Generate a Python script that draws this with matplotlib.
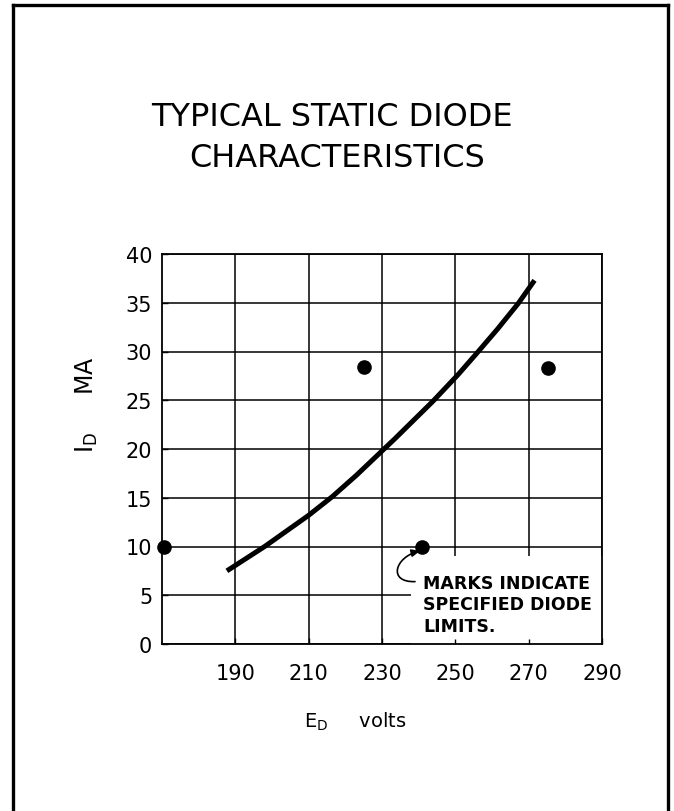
import matplotlib
matplotlib.use("Agg")
import matplotlib.pyplot as plt
from matplotlib.patches import Rectangle, FancyArrowPatch
from matplotlib.path import Path
from matplotlib.lines import Line2D

# ---- data ----
curve_ed = [187.7, 198.0, 210.0, 216.4, 223.0, 230.0, 233.5, 243.9, 250.8, 255.8, 261.5, 267.2, 271.6]
curve_id = [7.5, 10.0, 13.2, 15.1, 17.3, 19.8, 21.05, 24.9, 27.65, 29.8, 32.3, 34.95, 37.3]
limit_ed = [170.5, 225.1, 240.9, 275.3]
limit_id = [10.0, 28.4, 10.0, 28.3]
x_ticks = [190, 210, 230, 250, 270, 290]
y_ticks = [0, 5, 10, 15, 20, 25, 30, 35, 40]
title_lines = ["TYPICAL STATIC DIODE", "CHARACTERISTICS"]
note_text = "MARKS INDICATE\nSPECIFIED DIODE\nLIMITS."

W, H = 674, 812
fig = plt.figure(figsize=(W / 100, H / 100), dpi=100)
plt.rcParams['font.family'] = ['DejaVu Sans']

def fx(px):
    return px / W

def fy(py):
    return 1 - py / H

left, right, top, bottom = 162, 602, 255, 645
ax = fig.add_axes([fx(left), fy(bottom), (right - left) / W, (bottom - top) / H])
ax.set_xlim(170, 290)
ax.set_ylim(0, 40)
ax.set_xticks(x_ticks)
ax.set_yticks(y_ticks)
ax.set_axisbelow(True)
ax.grid(True, color='black', linewidth=1.1)
ax.tick_params(axis='both', direction='in', length=4, width=1.0,
               labelsize=15, colors='black')
ax.tick_params(axis='x', pad=14)
ax.tick_params(axis='y', pad=7)
for s in ax.spines.values():
    s.set_linewidth(1.3)
    s.set_color('black')
    s.set_zorder(5)

# white box behind the note (hides the grid there)
ax.add_patch(Rectangle((238.0, 0.0), 52.0, 9.0, facecolor='white',
                       edgecolor='none', zorder=1))
ax.vlines([250, 270], 0, 0.012, transform=ax.get_xaxis_transform(),
          colors='black', linewidth=1.0, zorder=2)

# curve
ax.plot(curve_ed, curve_id, color='black', linewidth=3.6,
        solid_capstyle='butt', solid_joinstyle='round', zorder=3)
# limit marks
ax.plot(limit_ed, limit_id, linestyle='none', marker='o', markersize=9.5,
        color='black', clip_on=False, zorder=6)

# note
ax.text(241.2, 7.2, note_text, ha='left', va='top', fontsize=12.5,
        fontweight='bold', linespacing=1.25, zorder=4)
arrow_path = Path([(239.0, 6.4), (231.5, 6.3), (233.5, 8.9), (240.4, 9.55)],
                  [Path.MOVETO, Path.CURVE4, Path.CURVE4, Path.CURVE4])
ax.add_patch(FancyArrowPatch(path=arrow_path, arrowstyle='-|>,head_length=5,head_width=2.2',
                             color='black', linewidth=1.2, zorder=4))

# axis labels
fig.text(fx(87), fy(405), r'$\mathregular{I_D}$     MA', rotation=90,
         ha='center', va='center', fontsize=17)
fig.text(fx(355), fy(722), r'$\mathregular{E_D}$     volts',
         ha='center', va='center', fontsize=14)

# title
fig.text(fx(332), fy(126), title_lines[0], ha='center', va='baseline', fontsize=23)
fig.text(fx(337), fy(167), title_lines[1], ha='center', va='baseline', fontsize=23)

# outer frame (left, top, right)
frame_kw = dict(color='black', linewidth=2.4, transform=fig.transFigure)
fig.add_artist(Line2D([fx(13), fx(13)], [fy(6), 0], **frame_kw))
fig.add_artist(Line2D([fx(13), fx(668)], [fy(6), fy(6)], **frame_kw))
fig.add_artist(Line2D([fx(668), fx(668)], [fy(6), 0], **frame_kw))

fig.savefig('out.png', dpi=100, facecolor='white')
